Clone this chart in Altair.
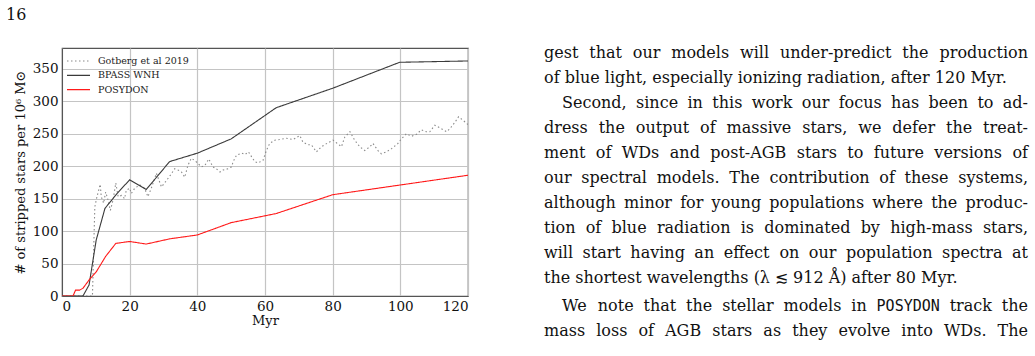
import altair as alt
import pandas as pd

# ---------------- data ----------------
series_names = ["Gotberg et al 2019", "BPASS WNH", "POSYDON"]

gotberg_x = [0, 9.0, 9.3, 9.7, 10.2, 10.6, 11.3, 11.6, 12.3, 12.9, 13.6, 14.3, 15.1, 15.9,
             16.6, 17.6, 18.5, 19.0, 20.0, 20.5, 21.5, 23.0, 24.4, 25.4, 26.4, 27.9, 29.4,
             30.9, 32.3, 33.3, 34.3, 35.3, 36.3, 37.2, 38.2, 39.2, 40.2, 41.2, 42.2, 43.4,
             44.6, 45.6, 46.7, 47.6, 49.1, 50.1, 50.6, 51.6, 53.1, 54.1, 55.1, 56.1, 57.0,
             58.0, 59.4, 60.4, 61.4, 62.9, 64.3, 66.3, 68.3, 70.3, 71.2, 72.7, 73.7, 75.2,
             76.7, 78.6, 80.1, 81.1, 82.6, 83.6, 85.1, 86.5, 88.0, 89.5, 91.0, 91.9, 93.4,
             94.4, 95.9, 97.4, 99.3, 100.3, 101.8, 103.3, 104.8, 106.2, 107.7, 108.7, 110.2,
             111.7, 113.7, 114.7, 116.2, 117.2, 118.7, 120.0]
gotberg_y = [0, 0, 60, 137, 150, 158, 172, 153, 143, 160, 148, 132, 148, 174,
             153, 155, 150, 163, 166, 158, 166, 171, 166, 153, 166, 189, 168,
             178, 188, 196, 194, 191, 183, 201, 212, 209, 204, 199, 201, 211,
             199, 196, 191, 194, 196, 199, 207, 217, 220, 218, 222, 214, 207,
             205, 209, 224, 235, 240, 241, 243, 241, 247, 237, 233, 233, 222,
             230, 236, 240, 236, 230, 245, 253, 240, 230, 224, 230, 235, 224,
             219, 222, 227, 235, 242, 250, 246, 249, 256, 253, 253, 263,
             259, 253, 258, 268, 276, 270, 264]

bpass_x = [0, 6.2, 8.0, 10.1, 12.7, 16.3, 20.0, 24.9, 31.8, 40.0, 50.0, 63.3, 80.0, 99.8, 120.0]
bpass_y = [0, 0, 17, 86, 135, 158, 179, 164, 207, 220, 242, 290, 320, 360, 362]

posydon_x = [0, 3.25, 4.0, 5.2, 6.2, 8.2, 10.1, 12.9, 15.9, 20.0, 24.9, 31.8, 40.0, 50.0,
             63.3, 80.0, 100.0, 120.0]
posydon_y = [0, 0, 9, 9, 12, 26, 37, 61, 81, 84, 80, 88, 94, 113,
             127, 156, 171, 186]

x_ticks = [0, 20, 40, 60, 80, 100, 120]
y_ticks = [0, 50, 100, 150, 200, 250, 300, 350]

page_number = "16"

paragraph_lines = [
    "gest that our models will under-predict the production",
    "of blue light, especially ionizing radiation, after 120 Myr.",
    "Second, since in this work our focus has been to ad-",
    "dress the output of massive stars, we defer the treat-",
    "ment of WDs and post-AGB stars to future versions of",
    "our spectral models. The contribution of these systems,",
    "although minor for young populations where the produc-",
    "tion of blue radiation is dominated by high-mass stars,",
    "will start having an effect on our population spectra at",
    "the shortest wavelengths (\u03bb \u2272 912 \u00c5) after 80 Myr.",
    "We note that the stellar models in POSYDON track the",
    "mass loss of AGB stars as they evolve into WDs. The",
]
indented = {2, 10}
not_justified = {1, 9}
mono_words = {"POSYDON"}

# ---------------- styles / layout ----------------
series_colors = ["#8a8a8a", "#3a3a3a", "#ff1a1a"]
series_dashes = [[1.5, 2.5], [1, 0], [1, 0]]

W, H = 406, 248
PAD_L, PAD_T = 62, 48
CANVAS_W, CANVAS_H = 1035, 356
SERIF = "DejaVu Serif"
MONO = "DejaVu Sans Mono"

# approximate DejaVu Serif advance widths (em) for laying out justified text
_w = {" ": 0.318, "a": 0.596, "b": 0.640, "c": 0.561, "d": 0.640, "e": 0.592, "f": 0.370,
      "g": 0.640, "h": 0.644, "i": 0.320, "j": 0.310, "k": 0.605, "l": 0.320, "m": 0.948,
      "n": 0.644, "o": 0.602, "p": 0.640, "q": 0.640, "r": 0.478, "s": 0.513, "t": 0.402,
      "u": 0.644, "v": 0.565, "w": 0.856, "x": 0.565, "y": 0.565, "z": 0.524,
      "A": 0.722, "B": 0.735, "C": 0.765, "D": 0.802, "E": 0.730, "F": 0.694, "G": 0.799,
      "H": 0.872, "I": 0.395, "J": 0.401, "K": 0.747, "L": 0.664, "M": 1.024, "N": 0.875,
      "O": 0.820, "P": 0.673, "Q": 0.820, "R": 0.753, "S": 0.685, "T": 0.667, "U": 0.843,
      "V": 0.722, "W": 1.028, "X": 0.712, "Y": 0.660, "Z": 0.695,
      ".": 0.318, ",": 0.318, "-": 0.338, "(": 0.390, ")": 0.390,
      "\u03bb": 0.60, "\u2272": 0.838, "\u00c5": 0.722}


def word_width(word, fs):
    if word in mono_words:
        return 0.602 * len(word) * (fs - 1)
    return sum(_w.get(ch, 0.636) for ch in word) * fs


frames = []
for name, xs, ys in [(series_names[0], gotberg_x, gotberg_y),
                     (series_names[1], bpass_x, bpass_y),
                     (series_names[2], posydon_x, posydon_y)]:
    frames.append(pd.DataFrame({"series": name, "Myr": xs, "n": ys}))
df = pd.concat(frames, ignore_index=True)
df["order"] = df.index

lines = alt.Chart(df).mark_line(strokeWidth=1.1, clip=True).encode(
    x=alt.X("Myr:Q", scale=alt.Scale(domain=[0, 120], nice=False),
            axis=alt.Axis(values=x_ticks, title="Myr", format="d")),
    y=alt.Y("n:Q", scale=alt.Scale(domain=[0, 382], nice=False),
            axis=alt.Axis(values=y_ticks, format="d",
                          title="# of stripped stars per 10\u2076 M\u2299")),
    color=alt.Color("series:N", sort=series_names,
                    scale=alt.Scale(domain=series_names, range=series_colors),
                    legend=None),
    strokeDash=alt.StrokeDash("series:N", sort=series_names,
                              scale=alt.Scale(domain=series_names, range=series_dashes),
                              legend=None),
    order="order:Q",
)

layers = [lines]

# legend (upper left, no frame)
LEG_X0, LEG_X1, LEG_TX, LEG_Y0, LEG_DY = 5, 28, 36, 13, 14.3
for i, name in enumerate(series_names):
    yy = LEG_Y0 + i * LEG_DY
    layers.append(alt.Chart(pd.DataFrame({"s": [name]})).mark_rule(
        color=series_colors[i], strokeDash=series_dashes[i], strokeWidth=1.2
    ).encode(x=alt.value(LEG_X0), x2=alt.value(LEG_X1), y=alt.value(yy)))
    layers.append(alt.Chart(pd.DataFrame({"s": [name]})).mark_text(
        font=SERIF, fontSize=9.5, align="left", baseline="middle", color="#222"
    ).encode(text="s:N", x=alt.value(LEG_TX), y=alt.value(yy)))

# page number
layers.append(alt.Chart(pd.DataFrame({"t": [page_number]})).mark_text(
    font=SERIF, fontSize=16, align="left", baseline="alphabetic", color="#111"
).encode(text="t:N", x=alt.value(6 - PAD_L), y=alt.value(20 - PAD_T)))

# paragraph text on the right (justified word by word)
TEXT_L, TEXT_R = 544, 1028
INDENT = 18
BASE0, LEAD, PARSKIP = 58, 25, 3
FS = 16
rows = []
for i, ln in enumerate(paragraph_lines):
    base = BASE0 + i * LEAD + (PARSKIP if i >= 10 else 0) - PAD_T
    left = TEXT_L + (INDENT if i in indented else 0)
    words = ln.split(" ")
    widths = [word_width(w_, FS) for w_ in words]
    if i in not_justified or len(words) < 2:
        gap = 0.318 * FS
    else:
        gap = (TEXT_R - left - sum(widths)) / (len(words) - 1)
    x = left
    for j, (w_, wd) in enumerate(zip(words, widths)):
        last = (j == len(words) - 1) and i not in not_justified
        rows.append({"t": w_, "px": (TEXT_R if last else x) - PAD_L, "py": base,
                     "al": "right" if last else "left",
                     "mono": w_ in mono_words})
        x += wd + gap

words_df = pd.DataFrame(rows)
for al in ["left", "right"]:
    for mono in [False, True]:
        sub = words_df[(words_df["al"] == al) & (words_df["mono"] == mono)]
        if len(sub) == 0:
            continue
        layers.append(alt.Chart(sub).mark_text(
            font=MONO if mono else SERIF, fontSize=FS - 1 if mono else FS, align=al,
            baseline="alphabetic", color="#111"
        ).encode(text="t:N", x=alt.X("px:Q", scale=None, axis=None),
                 y=alt.Y("py:Q", scale=None, axis=None)))

chart = alt.layer(*layers).properties(
    width=W, height=H,
    padding={"left": PAD_L, "top": PAD_T,
             "right": CANVAS_W - PAD_L - W, "bottom": CANVAS_H - PAD_T - H},
    autosize=alt.AutoSizeParams(type="none"),
    background="white",
).resolve_scale(x="independent", y="independent").configure_view(
    stroke="#555555", strokeWidth=1.2
).configure_axis(
    labelFont=SERIF, titleFont=SERIF, labelFontSize=13.5, titleFontSize=13,
    labelColor="#111", titleColor="#111", titleFontWeight="normal",
    grid=True, gridColor="#c4c4c4", gridWidth=1.2,
    domainColor="#555555", tickColor="#555555", tickSize=3, ticks=False,
).configure_axisX(
    labelPadding=3, titlePadding=2,
).configure_axisY(
    labelPadding=4, titlePadding=5,
)

chart.save("out.html", embed_options={"renderer": "svg", "actions": False})
